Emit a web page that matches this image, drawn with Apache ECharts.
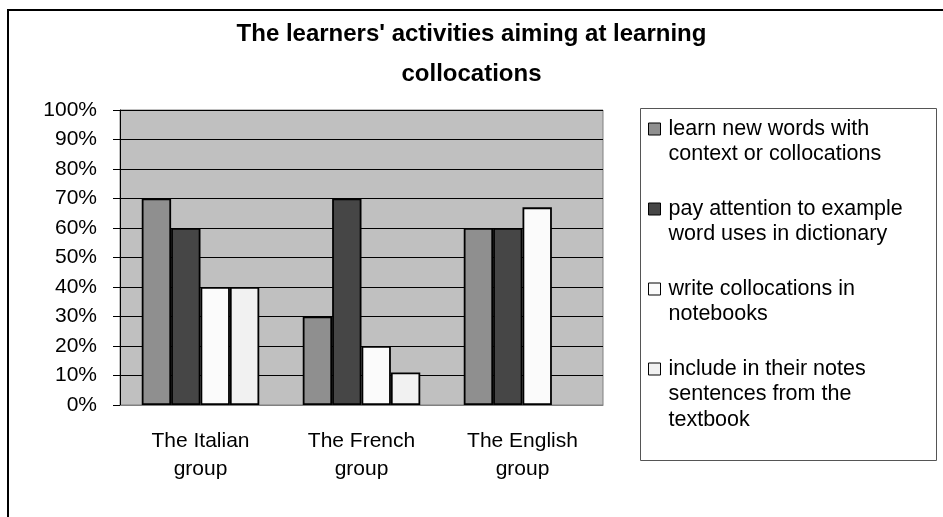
<!DOCTYPE html>
<html>
<head>
<meta charset="utf-8">
<script src="https://cdn.jsdelivr.net/npm/echarts@6/dist/echarts.min.js"></script>
<style>
  html, body { margin: 0; padding: 0; background: #fff; }
  #chart { width: 943px; height: 517px; }
</style>
</head>
<body>
<div id="chart"></div>
<script>
// categories and values (percent)
var groups = ["The Italian group", "The French group", "The English group"];
var learnWithContext = [70, 30, 60];
var dictionaryExamples = [60, 70, 60];
var writeInNotebooks = [40, 20, 67];
var textbookSentences = [40, 11, null];

var seriesNames = [
  "learn new words with context or collocations",
  "pay attention to example word uses in dictionary",
  "write collocations in notebooks",
  "include in their notes sentences from the textbook"
];
// how the legend wraps each name
var legendLines = [
  ["learn new words with", "context or collocations"],
  ["pay attention to example", "word uses in dictionary"],
  ["write collocations in", "notebooks"],
  ["include in their notes", "sentences from the", "textbook"]
];
var barColors = ["#8f8f8f", "#464646", "#fbfbfb", "#f1f1f1"];

var font = "Liberation Sans, Arial, sans-serif";
var lh = 25.5;
var iconY = [129, 209, 289, 369];

var myChart = echarts.init(document.getElementById("chart"));

// one legend per entry so the icon sits on the first text line
var legends = seriesNames.map(function (name, i) {
  var n = legendLines[i].length;
  var pad = [];
  for (var k = 0; k < n - 1; k++) pad.push("");
  return {
    data: [name],
    orient: "vertical",
    left: 648,
    top: iconY[i] - (n - 0.5) * lh,
    padding: 0,
    icon: "rect",
    itemWidth: 12,
    itemHeight: 12,
    itemStyle: { borderColor: "#000", borderWidth: 1 },
    selectedMode: false,
    formatter: function () {
      return pad.concat(legendLines[i]).join("\n");
    },
    textStyle: {
      fontFamily: font,
      fontSize: 21.5,
      color: "#000",
      lineHeight: lh,
      padding: [0, 0, 0, 3]
    }
  };
});

var values = [learnWithContext, dictionaryExamples, writeInNotebooks, textbookSentences];

myChart.setOption({
  animation: false,
  title: {
    text: "The learners' activities aiming at learning\ncollocations",
    left: "center",
    top: 14,
    padding: 0,
    textStyle: {
      fontFamily: font,
      fontSize: 24,
      fontWeight: "bold",
      color: "#000",
      lineHeight: 40
    }
  },
  legend: legends,
  grid: {
    left: 120,
    right: 340,
    top: 110,
    bottom: 112,
    show: true,
    backgroundColor: "#c0c0c0",
    borderColor: "#808080",
    borderWidth: 1
  },
  xAxis: {
    type: "category",
    data: groups,
    axisTick: { show: false },
    axisLine: { show: true, lineStyle: { color: "#808080", width: 1 } },
    axisLabel: {
      fontFamily: font,
      fontSize: 21,
      color: "#000",
      lineHeight: 28,
      margin: 22,
      formatter: function (v) {
        return v.replace(" group", "\ngroup");
      }
    }
  },
  yAxis: {
    type: "value",
    min: 0,
    max: 100,
    interval: 10,
    axisLine: { show: true, lineStyle: { color: "#000", width: 1 } },
    axisTick: { show: true, length: 7, lineStyle: { color: "#000" } },
    axisLabel: {
      fontFamily: font,
      fontSize: 21,
      color: "#000",
      margin: 23,
      formatter: "{value}%"
    },
    splitLine: { show: true, lineStyle: { color: "#000", width: 1 } }
  },
  graphic: [
    {
      type: "rect",
      shape: { x: 8, y: 10, width: 960, height: 540 },
      style: { fill: "none", stroke: "#000", lineWidth: 2 },
      silent: true,
      z: -1
    },
    {
      type: "rect",
      shape: { x: 640.5, y: 108.5, width: 296, height: 352 },
      style: { fill: "none", stroke: "#555", lineWidth: 1 },
      silent: true
    }
  ],
  series: seriesNames.map(function (name, i) {
    return {
      name: name,
      type: "bar",
      data: values[i],
      barGap: "0%",
      barCategoryGap: "27%",
      itemStyle: { color: barColors[i], borderColor: "#000", borderWidth: 1.8 }
    };
  })
});
</script>
</body>
</html>
